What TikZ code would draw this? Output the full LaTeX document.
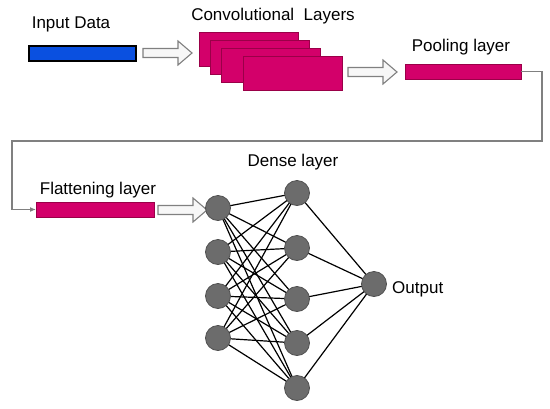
\documentclass[tikz,border=0pt]{standalone}
\usepackage{fontspec}
\setmainfont{Liberation Sans}
\usetikzlibrary{arrows.meta,backgrounds}
\definecolor{mag}{HTML}{D3006A}
\definecolor{magdark}{HTML}{9A0048}
\definecolor{inblue}{HTML}{0A50E0}
\definecolor{neuron}{HTML}{6C6C6C}
\definecolor{neuronb}{HTML}{505050}
\definecolor{linkgray}{HTML}{808080}
\tikzset{
  lbl/.style={font=\fontsize{17}{20}\selectfont, anchor=base, inner sep=0pt},
  magbar/.style={fill=mag, draw=magdark, line width=0.9pt},
  neur/.style={circle, fill=neuron, draw=neuronb, line width=0.8pt, minimum size=25pt, inner sep=0pt},
  edge/.style={draw=black, line width=1.2pt},
  barnode/.style={rectangle, inner sep=0pt, outer sep=0pt},
  blockarrow/.style={fill=gray!6, draw=linkgray, line width=1.1pt, line join=miter},
  link/.style={draw=linkgray, line width=1.2pt}
}
\newcommand{\blockarr}[2]{% #1 = x left, #2 = y center
  \draw[blockarrow] (#1,#2-4.5) -- ++(35,0) -- ++(0,-7.5) -- ++(14,12) -- ++(-14,12) -- ++(0,-7.5) -- ++(-35,0) -- cycle;}
\begin{document}
\begin{tikzpicture}[x=1pt,y=-1pt]
\useasboundingbox (0,0) rectangle (550,408);
% labels
\node[lbl] (tIn) at (71,28) {Input Data};
\node[lbl] (tConv) at (273,20) {Convolutional\ \ Layers};
\node[lbl] (tPool) at (461,51) {Pooling layer};
\node[lbl] (tFlat) at (98,194) {Flattening layer};
\node[lbl] (tDense) at (293,166) {Dense layer};
\node[lbl, anchor=base west] (tOut) at (392,293) {Output};
% input bar
\node[barnode, fill=inblue, draw=black, line width=1.2pt, minimum width=107pt, minimum height=15pt] (inbar) at (82.5,53.5) {};
% conv layers
\node[barnode, magbar, minimum width=99pt, minimum height=34pt] (c1) at (248.5,49) {};
\node[barnode, magbar, minimum width=99pt, minimum height=34pt] (c2) at (259.5,57.5) {};
\node[barnode, magbar, minimum width=99pt, minimum height=34pt] (c3) at (270.5,65.5) {};
\node[barnode, magbar, minimum width=99pt, minimum height=34pt] (c4) at (292.5,73.5) {};
% pooling and flattening bars
\node[barnode, magbar, minimum width=116pt, minimum height=15pt] (pool) at (463,71.5) {};
\node[barnode, magbar, minimum width=118pt, minimum height=15pt] (flat) at (95,209.5) {};
% block arrows
\blockarr{143}{53}
\blockarr{348}{72}
\blockarr{158}{210}
% connector
\coordinate (k1) at (542,71.5);
\coordinate (k2) at (542,141);
\coordinate (k3) at (12,141);
\coordinate (k4) at (12,209.5);
\draw[link, -{Latex[length=6pt,width=5pt]}] (pool.east) -- (k1) -- (k2) -- (k3) -- (k4) -- (flat.west);
% neurons
\foreach \i/\y in {1/208,2/252,3/296,4/338} \node[neur] (a\i) at (218,\y) {};
\foreach \j/\y in {1/193,2/248,3/299,4/343,5/388} \node[neur] (b\j) at (297,\y) {};
\node[neur] (o) at (374,284) {};
\begin{scope}[on background layer]
\foreach \i in {1,...,4} \foreach \j in {1,...,5} \draw[edge] (a\i.center) -- (b\j.center);
\foreach \j in {1,...,5} \draw[edge] (b\j.center) -- (o.center);
\end{scope}
\end{tikzpicture}
\end{document}
